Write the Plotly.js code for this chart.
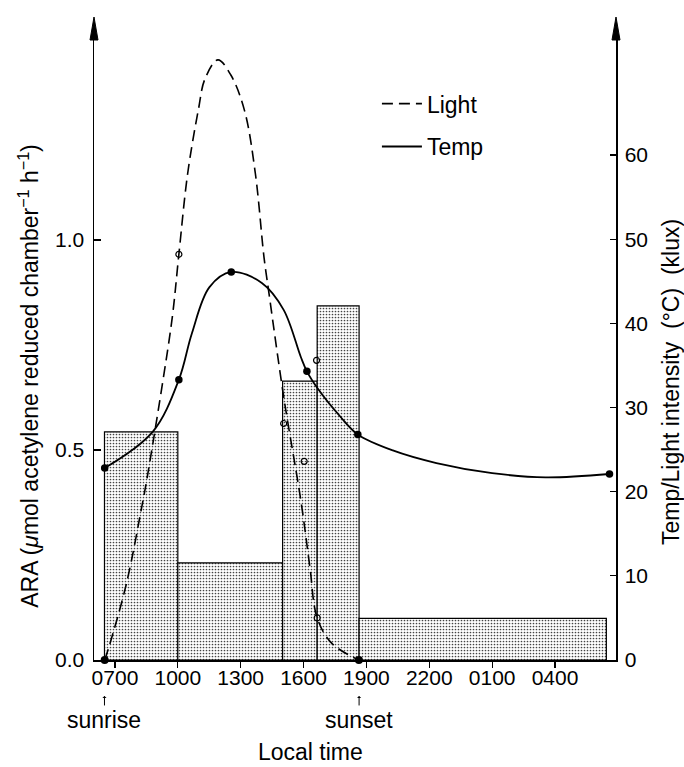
<!DOCTYPE html>
<html><head><meta charset="utf-8">
<script src="https://cdn.plot.ly/plotly-3.0.1.min.js"></script>
<style>html,body{margin:0;padding:0;background:#fff}</style>
</head><body><div id="chart" style="width:684px;height:767px"></div>
<script>
// ---- data ----
const tickHours = [7, 10, 13, 16, 19, 22, 25, 28];
const tickLabels = ['0700', '1000', '1300', '1600', '1900', '2200', '0100', '0400'];

// ARA bars (µmol acetylene reduced chamber-1 h-1), each spans a sampling interval (hours)
const araStart = [6.5, 10, 15, 16.65, 18.65];
const araEnd   = [10, 15, 16.65, 18.65, 30.45];
const araValue = [0.543, 0.231, 0.664, 0.843, 0.099];

// Light intensity fitted curve (klux)
const lightCurveHour = [6.51, 6.72, 7.55, 8.28, 8.49, 9.22, 9.74, 10.05, 10.47, 10.99, 11.29, 11.91, 12.53, 13.18, 13.70, 14.11, 14.32, 15.05, 15.88, 16.30, 16.65, 17.34, 18.64];
const lightCurveKlux = [0, 1.6, 9.1, 18.2, 21.0, 32.1, 40.8, 48.2, 57.8, 65.5, 69.0, 71.3, 69.5, 65.3, 57.8, 47.9, 44.1, 31.3, 18.8, 11.1, 5.0, 2.0, 0];
// Light measurements
const lightObsHour = [10.05, 15.05, 16.03, 16.62, 16.65];
const lightObsKlux = [48.2, 28.1, 23.6, 35.6, 5.0];
const lightEndHour = [6.51, 18.64];
const lightEndKlux = [0, 0];

// Temperature fitted curve (°C)
const tempCurveHour = [6.51, 8.80, 10.05, 10.67, 11.51, 12.55, 14.01, 15.05, 15.87, 16.16, 16.72, 17.76, 18.59, 20.26, 22.34, 25.0, 27.55, 30.6];
const tempCurveC    = [22.8, 27.1, 33.3, 38.8, 44.3, 46.1, 44.8, 41.6, 36.0, 34.3, 32.1, 28.9, 26.8, 24.9, 23.4, 22.2, 21.7, 22.1];
// Temperature measurements
const tempObsHour = [6.51, 10.05, 12.55, 16.16, 18.59, 30.6];
const tempObsC    = [22.8, 33.3, 46.1, 34.3, 26.8, 22.1];

const sunriseHour = 6.5;
const sunsetHour = 18.65;

// ---- chart ----
const FONT = 'Liberation Sans, Arial, Helvetica, sans-serif';
const barMid = araStart.map((s, i) => (s + araEnd[i]) / 2);
const barWidth = araStart.map((s, i) => araEnd[i] - s);

const traces = [
  {
    type: 'bar', x: barMid, y: araValue, width: barWidth, xaxis: 'x', yaxis: 'y',
    marker: {color: '#ffffff', line: {color: '#000', width: 1.2},
             pattern: {shape: '.', fgcolor: '#444', bgcolor: '#fff', size: 3, solidity: 0.25}},
    showlegend: false, hoverinfo: 'skip'
  },
  {
    type: 'scatter', mode: 'lines', x: lightCurveHour, y: lightCurveKlux, yaxis: 'y2',
    name: 'Light', legendgroup: 'a',
    line: {color: '#000', width: 1.6, dash: '11px,6px', shape: 'spline', smoothing: 1}
  },
  {
    type: 'scatter', mode: 'lines', x: tempCurveHour, y: tempCurveC, yaxis: 'y2',
    name: 'Temp', legendgroup: 'b',
    line: {color: '#000', width: 1.8, shape: 'spline', smoothing: 1}
  },
  {
    type: 'scatter', mode: 'markers', x: lightObsHour, y: lightObsKlux, yaxis: 'y2',
    marker: {symbol: 'circle-open', size: 6, color: '#000', line: {width: 1.2}}, showlegend: false
  },
  {
    type: 'scatter', mode: 'markers', x: lightEndHour, y: lightEndKlux, yaxis: 'y2',
    marker: {symbol: 'circle', size: 8, color: '#000'}, showlegend: false, cliponaxis: false
  },
  {
    type: 'scatter', mode: 'markers', x: tempObsHour, y: tempObsC, yaxis: 'y2',
    marker: {symbol: 'circle', size: 7.5, color: '#000'}, showlegend: false
  }
];

const axisCommon = {
  showgrid: false, zeroline: false, showline: true, linecolor: '#000', linewidth: 1.5,
  tickcolor: '#000', tickwidth: 1.3, tickfont: {family: FONT, size: 21, color: '#000'}
};

const layout = {
  width: 684, height: 767,
  margin: {l: 94, r: 68, t: 40, b: 107},
  paper_bgcolor: '#fff', plot_bgcolor: 'rgba(0,0,0,0)',
  font: {family: FONT, size: 21, color: '#000'},
  barmode: 'overlay',
  xaxis: Object.assign({}, axisCommon, {
    range: [6, 30.91], tickmode: 'array', tickvals: tickHours, ticktext: tickLabels,
    ticks: 'outside', ticklen: 6, ticklabelstandoff: -8
  }),
  yaxis: Object.assign({}, axisCommon, {
    range: [0, 1.476], tickmode: 'array', tickvals: [0, 0.5, 1.0], ticktext: ['0.0', '0.5', '1.0'],
    ticks: 'inside', ticklen: 7, ticklabelstandoff: 4
  }),
  yaxis2: Object.assign({}, axisCommon, {
    overlaying: 'y', side: 'right', anchor: 'x',
    range: [0, 73.66], tickmode: 'array', tickvals: [0, 10, 20, 30, 40, 50, 60],
    ticks: 'inside', ticklen: 6, ticklabelstandoff: 3
  }),
  showlegend: true,
  legend: {
    x: 0.542, y: 0.932, xanchor: 'left', yanchor: 'top',
    bgcolor: 'rgba(0,0,0,0)', borderwidth: 0,
    font: {family: FONT, size: 23, color: '#000'},
    traceorder: 'grouped', tracegroupgap: 10, itemwidth: 40
  },
  shapes: [
    {type: 'path', xref: 'paper', yref: 'paper', xsizemode: 'pixel', ysizemode: 'pixel',
     xanchor: 0, yanchor: 1, path: 'M-4,0 L4,0 L0,23 Z', fillcolor: '#000', line: {color: '#000', width: 1}},
    {type: 'path', xref: 'paper', yref: 'paper', xsizemode: 'pixel', ysizemode: 'pixel',
     xanchor: 1, yanchor: 1, path: 'M-4,0 L4,0 L0,23 Z', fillcolor: '#000', line: {color: '#000', width: 1}}
  ],
  annotations: [
    {xref: 'paper', yref: 'paper', x: -0.125, y: 0.458, textangle: -90, showarrow: false,
     xanchor: 'center', yanchor: 'middle',
     text: 'ARA (<i>μ</i>mol acetylene reduced chamber<sup>−1</sup> h<sup>−1</sup>)',
     font: {family: FONT, size: 23}},
    {xref: 'paper', yref: 'paper', x: 1.105, y: 0.448, textangle: -90, showarrow: false,
     xanchor: 'center', yanchor: 'middle',
     text: 'Temp/Light intensity  (°C)  (klux)', font: {family: FONT, size: 23}},
    {xref: 'paper', yref: 'paper', x: 0.414, y: -0.148, showarrow: false,
     xanchor: 'center', yanchor: 'middle', text: 'Local time', font: {family: FONT, size: 23}},
    {xref: 'x', yref: 'paper', x: sunriseHour, y: -0.058, ax: 0, ay: 24, showarrow: true,
     arrowhead: 1, arrowsize: 0.7, arrowwidth: 1, arrowcolor: '#000',
     text: 'sunrise', font: {family: FONT, size: 23}},
    {xref: 'x', yref: 'paper', x: sunsetHour, y: -0.058, ax: 0, ay: 24, showarrow: true,
     arrowhead: 1, arrowsize: 0.7, arrowwidth: 1, arrowcolor: '#000',
     text: 'sunset', font: {family: FONT, size: 23}}
  ]
};

Plotly.newPlot('chart', traces, layout, {displayModeBar: false, staticPlot: true});
</script>
</body></html>
